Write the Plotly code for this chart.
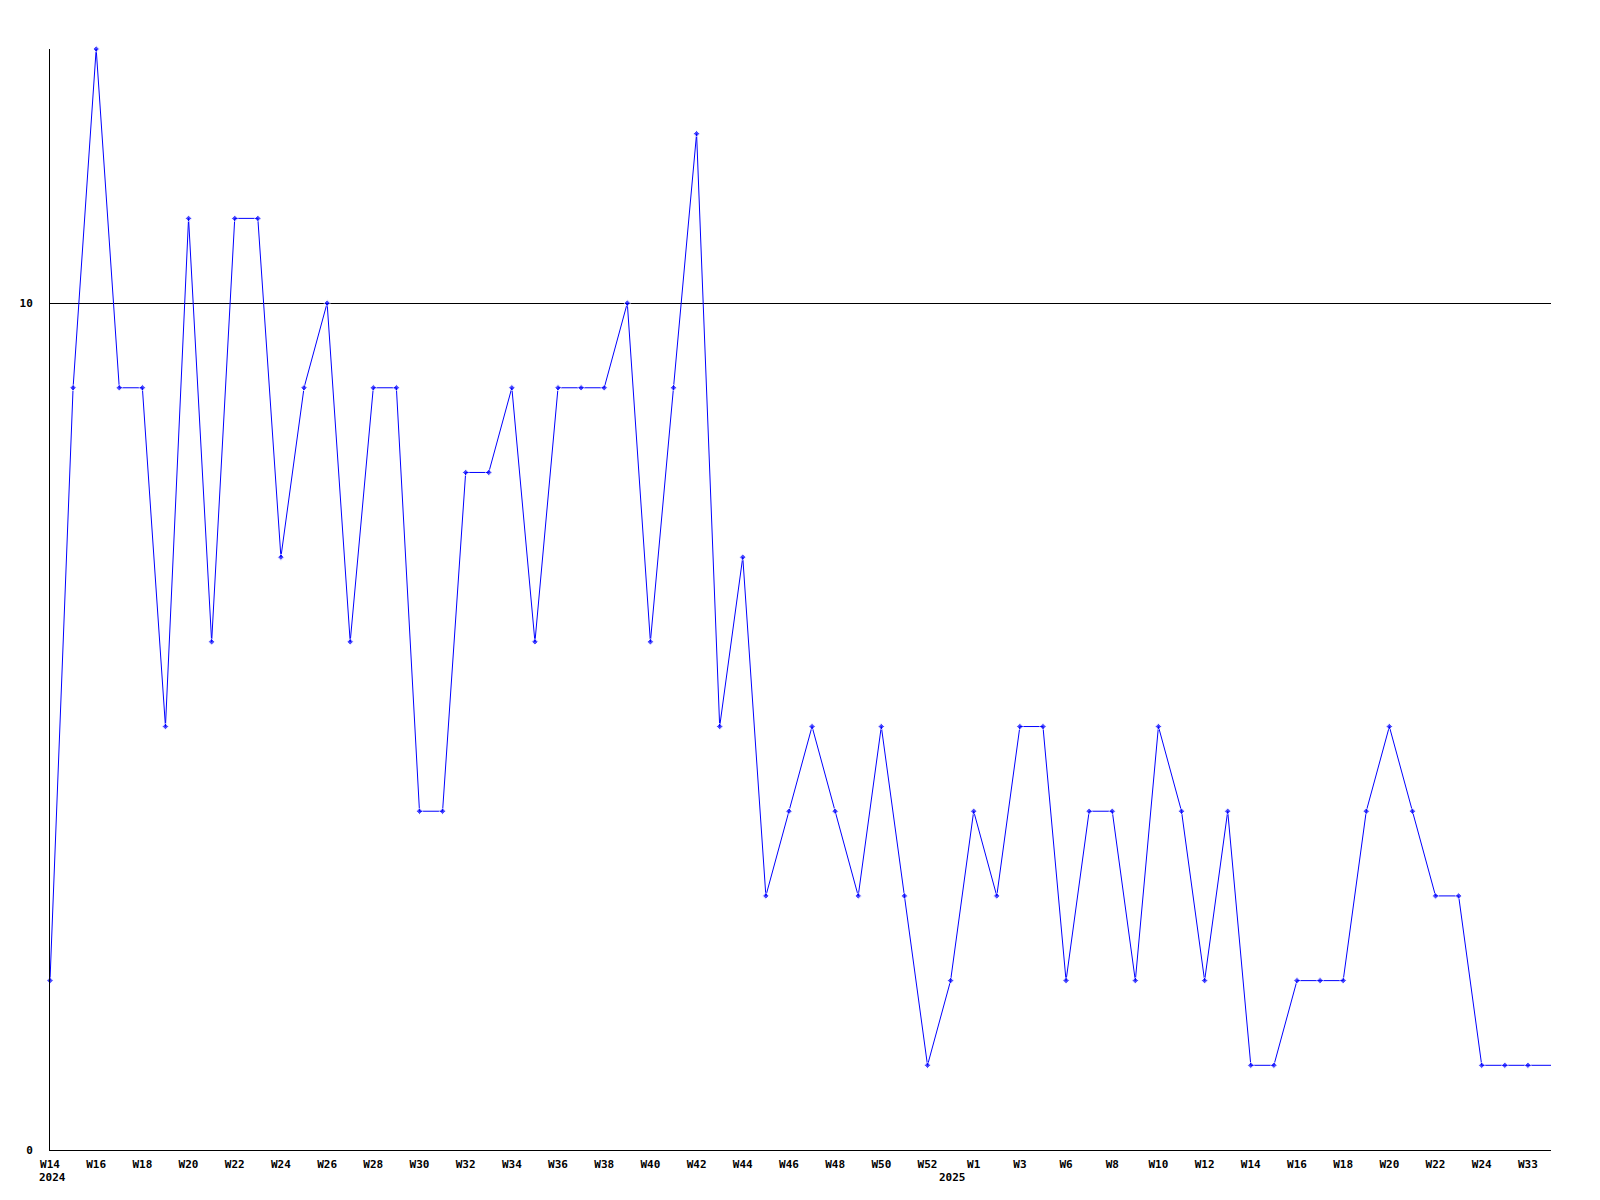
import plotly.graph_objects as go

# weekly counts, one value per week point (2024 W14 ... 2025 W33 and the trailing point)
values = [2, 9, 13, 9, 9, 5, 11, 6, 11, 11, 7, 9, 10, 6, 9, 9, 4, 4, 8, 8,
          9, 6, 9, 9, 9, 10, 6, 9, 12, 5, 7, 3, 4, 5, 4, 3, 5, 3, 1, 2,
          4, 3, 5, 5, 2, 4, 4, 2, 5, 4, 2, 4, 1, 1, 2, 2, 2, 4, 5, 4,
          3, 3, 1, 1, 1, 1]

# tick labels shown on every second point
tick_labels = ["W14", "W16", "W18", "W20", "W22", "W24", "W26", "W28", "W30", "W32",
               "W34", "W36", "W38", "W40", "W42", "W44", "W46", "W48", "W50", "W52",
               "W1", "W3", "W6", "W8", "W10", "W12", "W14", "W16", "W18", "W20",
               "W22", "W24", "W33"]
year_labels = ["2024", "2025"]
year_positions = [0, 39]

y_ticks = [0, 10]

x = list(range(len(values)))
tick_positions = [2 * i for i in range(len(tick_labels))]
marker_sizes = [5] * (len(values) - 1) + [0]

font = dict(family="DejaVu Sans Mono", size=11, color="black", weight="bold")

fig = go.Figure()
fig.add_trace(go.Scatter(
    x=x, y=values, mode="lines+markers",
    line=dict(color="#0000FF", width=1),
    marker=dict(symbol="diamond", size=marker_sizes, color="#0000FF"),
    cliponaxis=False,
    showlegend=False, hoverinfo="skip",
))

for yl, xp in zip(year_labels, year_positions):
    fig.add_annotation(x=xp, y=0, xref="x", yref="paper", text=yl, showarrow=False,
                       xanchor="center", yanchor="top", yshift=-19, xshift=2, font=font)

fig.update_layout(
    width=1584, height=1184,
    margin=dict(l=42, r=41, t=41, b=42),
    paper_bgcolor="white", plot_bgcolor="white",
    font=font,
)
fig.update_xaxes(
    range=[0, len(values) - 1], tickmode="array", tickvals=tick_positions,
    ticktext=tick_labels, showgrid=False, zeroline=False,
    showline=True, linecolor="black", linewidth=1, ticks="", tickfont=font,
    ticklabelstandoff=4,
)
fig.update_yaxes(
    range=[0, 13], tickmode="array", tickvals=y_ticks, ticktext=[str(v) for v in y_ticks],
    showgrid=True, gridcolor="black", gridwidth=1, zeroline=False,
    showline=True, linecolor="black", linewidth=1, ticks="", tickfont=font,
    ticklabelstandoff=14,
)

fig.write_html("out.html")
